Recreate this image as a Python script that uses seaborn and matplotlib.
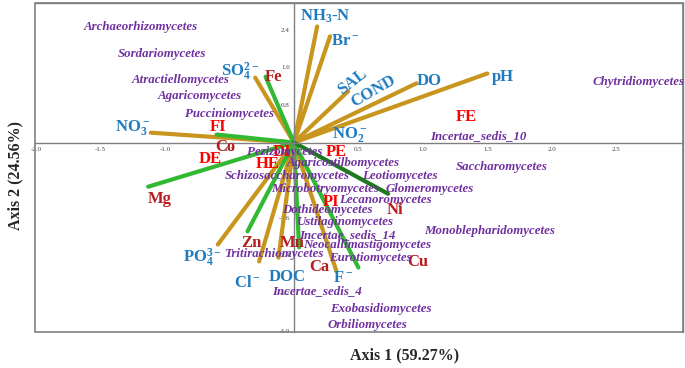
import numpy as np
import pandas as pd
import seaborn as sns
import matplotlib.pyplot as plt
from matplotlib.patches import Rectangle

# vectors (arrow tips, drawn from the origin)
env_vec = ["NH3-N", "Br", "SAL", "DO", "pH", "SO4", "NO3", "PO4", "Cl", "DOC", "F"]
env_x = [0.18, 0.28, 0.42, 0.95, 1.50, -0.30, -1.11, -0.59, -0.27, -0.12, 0.33]
env_y = [2.47, 2.26, 1.09, 1.26, 1.47, 1.38, 0.21, -2.17, -2.53, -2.45, -2.74]

metal_vec = ["Fe", "FI", "Mg", "Zn", "Ca", "Cu"]
metal_x = [-0.22, -0.60, -1.13, -0.36, 0.04, 0.50]
metal_y = [1.40, 0.17, -0.94, -1.89, -2.23, -2.66]

ni_vec = ["Ni"]
ni_x = [0.73]
ni_y = [-1.09]

# labels of the variables
env_lab = [r"NH$_3$-N", r"Br$^-$", "SAL", "COND", "DO", "pH", r"NO$_2^-$", r"NO$_3^-$",
           r"SO$_4^{2-}$", r"PO$_4^{3-}$", r"Cl$^-$", "DOC", r"F$^-$"]
env_lx = [0.24, 0.40, 0.45, 0.62, 1.05, 1.62, 0.43, -1.25, -0.42, -0.71, -0.36, -0.05, 0.38]
env_ly = [2.68, 2.17, 1.28, 1.10, 1.30, 1.40, 0.17, 0.32, 1.51, -2.45, -2.98, -2.87, -2.89]
env_rot = [0, 0, 38, 30, 0, 0, 0, 0, 0, 0, 0, 0, 0]

idx_lab = ["FE", "FI", "DE", "HE", "DI", "PE", "PI"]
idx_lx = [1.34, -0.59, -0.65, -0.20, -0.09, 0.33, 0.29]
idx_ly = [0.55, 0.34, -0.36, -0.45, -0.21, -0.21, -1.26]

met_lab = ["Fe", "Co", "Mg", "Ni", "Zn", "Mn", "Ca", "Cu"]
met_lx = [-0.16, -0.53, -1.04, 0.78, -0.33, -0.01, 0.20, 0.96]
met_ly = [1.40, -0.09, -1.21, -1.43, -2.13, -2.13, -2.64, -2.55]

taxa = ["Archaeorhizomycetes", "Sordariomycetes", "Atractiellomycetes", "Agaricomycetes",
        "Pucciniomycetes", "Chytridiomycetes", "Incertae_sedis_10", "Saccharomycetes",
        "Pezizomycetes", "Agaricostilbomycetes", "Schizosaccharomycetes", "Leotiomycetes",
        "Microbotryomycetes", "Glomeromycetes", "Lecanoromycetes", "Dothideomycetes",
        "Ustilaginomycetes", "Monoblepharidomycetes", "Incertae_sedis_14",
        "Neocallimastigomycetes", "Eurotiomycetes", "Tritirachiomycetes",
        "Incertae_sedis_4", "Exobasidiomycetes", "Orbiliomycetes"]
taxa_x = [-1.19, -1.02, -0.88, -0.73, -0.50, 2.67, 1.43, 1.61, -0.07, 0.38, -0.05, 0.82,
          0.24, 1.05, 0.71, 0.26, 0.40, 1.52, 0.41, 0.57, 0.59, -0.16, 0.18, 0.67, 0.57]
taxa_y = [2.45, 1.89, 1.34, 0.98, 0.60, 1.28, 0.13, -0.51, -0.21, -0.43, -0.72, -0.72,
          -0.98, -0.98, -1.23, -1.43, -1.70, -1.89, -1.96, -2.19, -2.45, -2.38, -3.15,
          -3.55, -3.89]

gold = "#C8961E"
green = "#33B833"
dkgreen = "#1E7A1E"
blue = "#1F7BC0"
red = "#FF0000"
dkred = "#B81C1C"
purple = "#7030A0"

sns.set_theme(style="white")
plt.rcParams["font.family"] = ["Liberation Serif", "DejaVu Serif"]
plt.rcParams["mathtext.fontset"] = "custom"
plt.rcParams["mathtext.rm"] = "Liberation Serif:bold"
plt.rcParams["mathtext.it"] = "Liberation Serif:bold"
plt.rcParams["mathtext.bf"] = "Liberation Serif:bold"

# segments origin -> tip
rows = []
colors = {}
for names, xs, ys, c in [(env_vec, env_x, env_y, gold),
                         (metal_vec, metal_x, metal_y, green),
                         (ni_vec, ni_x, ni_y, dkgreen)]:
    for n, x, y in zip(names, xs, ys):
        key = n + "_" + c
        rows.append((key, 0.0, 0.0))
        rows.append((key, x, y))
        colors[key] = c
seg = pd.DataFrame(rows, columns=["var", "x", "y"])

fig = plt.figure(figsize=(6.85, 3.68), dpi=100)
ax = fig.add_axes([0.051, 0.098, 0.946, 0.894])

sns.lineplot(data=seg, x="x", y="y", hue="var", palette=colors, units="var",
             estimator=None, sort=False, linewidth=3, legend=False, ax=ax)

for t, x, y, r in zip(env_lab, env_lx, env_ly, env_rot):
    ax.text(x, y, t, color=blue, fontsize=12, fontweight="bold", rotation=r,
            ha="center", va="center")
for t, x, y in zip(idx_lab, idx_lx, idx_ly):
    ax.text(x, y, t, color=red, fontsize=12, fontweight="bold", ha="center", va="center")
for t, x, y in zip(met_lab, met_lx, met_ly):
    ax.text(x, y, t, color=dkred, fontsize=12, fontweight="bold", ha="center", va="center")
for t, x, y in zip(taxa, taxa_x, taxa_y):
    ax.text(x, y, t, color=purple, fontsize=9.3, fontweight="bold", style="italic",
            ha="center", va="center")

ax.set_xlim(-2.008, 3.016)
ax.set_ylim(-4.03, 2.97)
ax.set_xticks([-2.0, -1.5, -1.0, -0.5, 0.5, 1.0, 1.5, 2.0, 2.5])
ax.set_yticks([-4.0, -3.2, -2.4, -1.6, -0.8, 0.8, 1.6, 2.4])
ax.set_xticklabels(["%.1f" % v for v in ax.get_xticks()], fontfamily="DejaVu Sans")
ax.set_yticklabels(["%.1f" % v for v in ax.get_yticks()], fontfamily="DejaVu Sans")
ax.tick_params(labelsize=5, colors="#444444", length=3, direction="inout", width=0.8,
               pad=1.5)
ax.set_xlabel("")
ax.set_ylabel("")

for s in ["left", "bottom"]:
    ax.spines[s].set_position(("data", 0))
for s in ax.spines.values():
    s.set_color("#808080")
    s.set_linewidth(1)
ax.add_patch(Rectangle((0, 0), 1, 1, transform=ax.transAxes, fill=False,
                       edgecolor="#808080", linewidth=1.2, clip_on=False))

fig.text(0.591, 0.035, "Axis 1 (59.27%)", fontsize=11.5, fontweight="bold",
         ha="center", va="center")
fig.text(0.022, 0.524, "Axis 2 (24.56%)", fontsize=11.5, fontweight="bold",
         rotation=90, ha="center", va="center")

fig.savefig("out.png", dpi=100)
